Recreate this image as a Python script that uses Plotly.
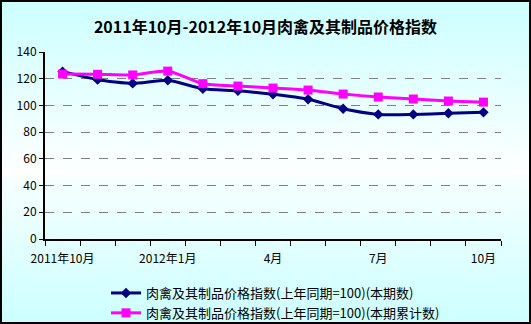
import plotly.graph_objects as go

months = ["2011年10月", "11月", "12月", "2012年1月", "2月", "3月", "4月", "5月", "6月", "7月", "8月", "9月", "10月"]
current = [125.3, 119.3, 116.5, 118.8, 112.5, 111.0, 108.3, 104.6, 97.5, 93.3, 93.3, 94.1, 94.8]
cumulative = [123.5, 123.3, 122.8, 125.7, 116.3, 114.5, 113.0, 111.5, 108.5, 106.3, 104.8, 103.3, 102.5]
shown_labels = ["2011年10月", "", "", "2012年1月", "", "", "4月", "", "", "7月", "", "", "10月"]
series_names = ["肉禽及其制品价格指数(上年同期=100)(本期数)", "肉禽及其制品价格指数(上年同期=100)(本期累计数)"]
title = "2011年10月-2012年10月肉禽及其制品价格指数"

idx = list(range(len(months)))
FONT = "Noto Sans CJK SC"

fig = go.Figure()
fig.add_trace(go.Scatter(x=idx, y=current, mode="lines+markers", name=series_names[0],
                         line=dict(color="#000080", width=3, shape="spline", smoothing=0.6),
                         marker=dict(symbol="diamond", size=8, color="#000080")))
fig.add_trace(go.Scatter(x=idx, y=cumulative, mode="lines+markers", name=series_names[1],
                         line=dict(color="#FF00FF", width=3, shape="spline", smoothing=0.6),
                         marker=dict(symbol="square", size=9, color="#FF00FF")))

W, H = 531, 324
L, R, T, B = 45, 30, 52, 85
PW = W - L - R
PH = H - T - B


def py(pix):  # pixel from top -> paper y
    return (H - B - pix) / PH


def px(pix):
    return (pix - L) / PW


shapes = []
n = 40
for i in range(n):
    top = H * i / n
    bot = H * (i + 1) / n
    mid = (top + bot) / 2
    if mid < 175:
        t = mid / 175
    else:
        t = max(0.0, 1 - (mid - 175) / 150) * 0.85
    t = min(1.0, max(0.0, t))
    r = int(204 + (255 - 204) * t)
    shapes.append(dict(type="rect", xref="paper", yref="paper", x0=px(0), x1=px(W),
                       y0=py(bot + 0.5), y1=py(top), line=dict(width=0),
                       fillcolor=f"rgb({r},255,255)", layer="below"))
# outer border
shapes.append(dict(type="rect", xref="paper", yref="paper", x0=px(1), x1=px(W - 1),
                   y0=py(H - 1), y1=py(1), line=dict(width=2, color="black"),
                   fillcolor="rgba(0,0,0,0)", layer="above"))

fig.update_layout(
    width=W, height=H,
    margin=dict(l=L, r=R, t=T, b=B, autoexpand=False),
    paper_bgcolor="#E6FFFF",
    plot_bgcolor="rgba(0,0,0,0)",
    shapes=shapes,
    title=dict(text=title, x=0.5, xanchor="center", y=1 - 27 / H, yanchor="middle",
               font=dict(family=FONT, size=16, color="black", weight="bold")),
    font=dict(family=FONT, size=12, color="black"),
    showlegend=True,
    legend=dict(x=px(106), y=py(278), xanchor="left", yanchor="top",
                bgcolor="rgba(0,0,0,0)", font=dict(family=FONT, size=13, color="black"),
                tracegroupgap=0, itemwidth=30),
)
fig.update_xaxes(range=[-0.5, len(months) - 0.5], tickmode="array", tickvals=idx, ticktext=shown_labels,
                 ticks="", showgrid=False, showline=True, linecolor="black", linewidth=2,
                 zeroline=False, automargin=False, ticklabelstandoff=8,
                 tickfont=dict(family=FONT, size=12),
                 minor=dict(ticks="outside", tick0=-0.5, dtick=1, ticklen=5, tickcolor="black",
                            tickwidth=1, showgrid=False))
fig.update_yaxes(range=[0, 140], dtick=20, ticks="outside", ticklen=4, tickcolor="black",
                 showline=True, linecolor="black", linewidth=2, zeroline=False, automargin=False,
                 showgrid=True, gridcolor="#808080", griddash="dash", gridwidth=1,
                 tickfont=dict(family=FONT, size=12))

fig.write_html("out.html")
